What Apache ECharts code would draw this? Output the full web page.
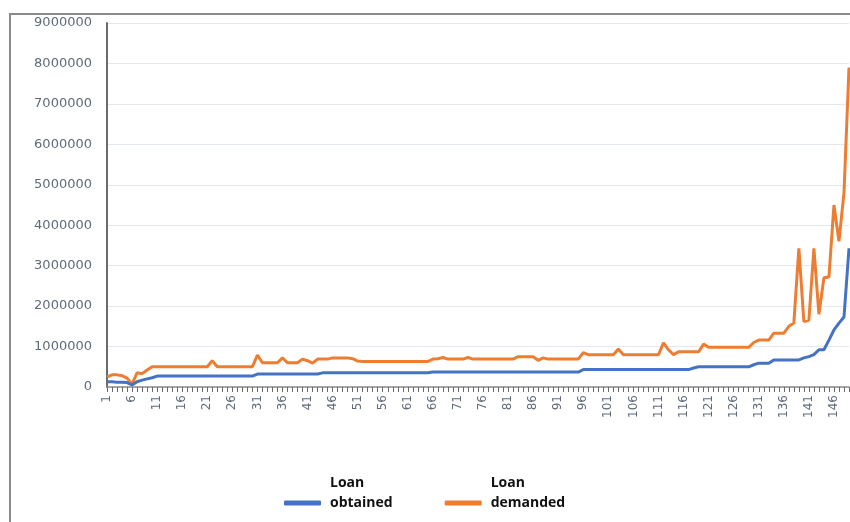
<!DOCTYPE html>
<html>
<head>
<meta charset="utf-8">
<script src="https://cdn.jsdelivr.net/npm/echarts@6/dist/echarts.min.js"></script>
<style>
  html, body { margin: 0; padding: 0; background: #fff; }
  #chart { width: 850px; height: 522px; }
</style>
</head>
<body>
<div id="chart"></div>
<script>
// categories 1..149
var categories = [];
for (var i = 1; i <= 149; i++) categories.push(String(i));

var yTicks = [0, 1000000, 2000000, 3000000, 4000000, 5000000, 6000000, 7000000, 8000000, 9000000];

var loanObtained = [
    130000, 130000, 120000, 120000, 110000, 50000, 130000, 170000, 200000, 230000,
    270000, 270000, 270000, 270000, 270000, 270000, 270000, 270000, 270000, 270000,
    270000, 270000, 270000, 270000, 270000, 270000, 270000, 270000, 270000, 270000,
    320000, 320000, 320000, 320000, 320000, 320000, 320000, 320000, 320000, 320000,
    320000, 320000, 320000, 350000, 350000, 350000, 350000, 350000, 350000, 350000,
    350000, 350000, 350000, 350000, 350000, 350000, 350000, 350000, 350000, 350000,
    350000, 350000, 350000, 350000, 350000, 370000, 370000, 370000, 370000, 370000,
    370000, 370000, 370000, 370000, 370000, 370000, 370000, 370000, 370000, 370000,
    370000, 370000, 370000, 370000, 370000, 370000, 370000, 370000, 370000, 370000,
    370000, 370000, 370000, 370000, 370000, 430000, 430000, 430000, 430000, 430000,
    430000, 430000, 430000, 430000, 430000, 430000, 430000, 430000, 430000, 430000,
    430000, 430000, 430000, 430000, 430000, 430000, 430000, 470000, 500000, 500000,
    500000, 500000, 500000, 500000, 500000, 500000, 500000, 500000, 500000, 550000,
    590000, 590000, 590000, 670000, 670000, 670000, 670000, 670000, 670000, 720000,
    750000, 800000, 920000, 920000, 1160000, 1410000, 1580000, 1730000, 3430000
];

var loanDemanded = [
    250000, 300000, 300000, 280000, 220000, 70000, 350000, 330000, 420000, 500000,
    500000, 500000, 500000, 500000, 500000, 500000, 500000, 500000, 500000, 500000,
    500000, 650000, 500000, 500000, 500000, 500000, 500000, 500000, 500000, 500000,
    790000, 600000, 600000, 600000, 600000, 720000, 600000, 600000, 600000, 690000,
    650000, 590000, 690000, 690000, 690000, 720000, 720000, 720000, 720000, 700000,
    640000, 630000, 630000, 630000, 630000, 630000, 630000, 630000, 630000, 630000,
    630000, 630000, 630000, 630000, 630000, 690000, 700000, 730000, 690000, 690000,
    690000, 690000, 730000, 690000, 690000, 690000, 690000, 690000, 690000, 690000,
    690000, 690000, 750000, 750000, 750000, 750000, 660000, 720000, 690000, 690000,
    690000, 690000, 690000, 690000, 690000, 850000, 800000, 800000, 800000, 800000,
    800000, 800000, 940000, 800000, 800000, 800000, 800000, 800000, 800000, 800000,
    800000, 1090000, 920000, 800000, 870000, 870000, 870000, 870000, 870000, 1060000,
    980000, 980000, 980000, 980000, 980000, 980000, 980000, 980000, 980000, 1100000,
    1160000, 1160000, 1160000, 1330000, 1330000, 1330000, 1500000, 1580000, 3430000, 1620000,
    1650000, 3430000, 1800000, 2700000, 2720000, 4500000, 3600000, 4800000, 7900000
];

var myChart = echarts.init(document.getElementById('chart'));
var option = {
    backgroundColor: '#fff',
    animation: false,
    graphic: [{
        type: 'rect',
        shape: { x: 10, y: 14, width: 870, height: 540 },
        style: { fill: 'none', stroke: '#8a8a8a', lineWidth: 2 },
        z: -1
    }],
    grid: {
        left: 107,
        right: 1,
        top: 23,
        bottom: 135
    },
    legend: {
        left: 279,
        top: 468,
        itemWidth: 37,
        itemHeight: 5,
        itemGap: 52,
        icon: 'roundRect',
        data: ['Loan\nobtained', 'Loan\ndemanded'],
        // extra empty line so the icon sits level with the second line
        formatter: function (name) { return name + '\n'; },
        textStyle: {
            color: '#111',
            fontFamily: 'Open Sans',
            fontWeight: 'bold',
            fontSize: 14,
            lineHeight: 20,
            padding: [0, 0, 0, 4]
        }
    },
    xAxis: {
        type: 'category',
        data: categories,
        boundaryGap: false,
        axisLine: { lineStyle: { color: '#8c8c8c', width: 1.5 } },
        axisTick: {
            interval: 0,
            length: 5,
            lineStyle: { color: '#6b6b6b' }
        },
        axisLabel: {
            interval: 4,
            rotate: 90,
            margin: 8,
            color: '#5f6b7a',
            fontFamily: 'DejaVu Sans',
            fontSize: 12
        }
    },
    yAxis: {
        type: 'value',
        min: yTicks[0],
        max: yTicks[yTicks.length - 1],
        interval: 1000000,
        axisLine: { show: true, lineStyle: { color: '#6b6b6b', width: 2 } },
        axisTick: { show: false },
        splitLine: { lineStyle: { color: '#e3e8ef', width: 1 } },
        axisLabel: {
            margin: 15,
            color: '#5f6b7a',
            fontFamily: 'DejaVu Sans',
            fontSize: 13,
            formatter: function (v) { return String(v); }
        }
    },
    series: [
        {
            name: 'Loan\nobtained',
            type: 'line',
            data: loanObtained,
            symbol: 'none',
            itemStyle: { color: '#4472C4' },
            lineStyle: { color: '#4472C4', width: 3 },
            z: 3
        },
        {
            name: 'Loan\ndemanded',
            type: 'line',
            data: loanDemanded,
            symbol: 'none',
            itemStyle: { color: '#ED7D31' },
            lineStyle: { color: '#ED7D31', width: 3 },
            z: 2
        }
    ]
};
myChart.setOption(option);
</script>
</body>
</html>
